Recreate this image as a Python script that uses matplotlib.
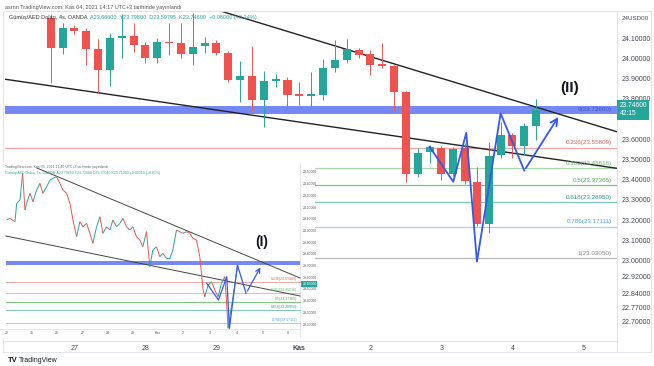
import matplotlib
matplotlib.use("Agg")
import matplotlib.pyplot as plt
from matplotlib.patches import Rectangle
from matplotlib.collections import LineCollection

plt.rcParams["font.family"] = ["Liberation Sans", "DejaVu Sans"]

# ---- main chart: Gumus/AED, 4h candles (index 0 = Oct 26 16:00) ----
opens = [24.199, 24.052, 24.148, 24.135, 24.044, 23.941, 24.102, 24.110, 24.064, 24.000,
         24.081, 24.076, 24.023, 24.061, 24.074, 24.028, 23.893, 23.913, 23.794, 23.886,
         23.893, 23.822, 23.815, 23.819, 23.954, 23.992, 24.041, 24.020, 23.970, 23.962,
         23.835, 23.427, 23.539, 23.555, 23.428, 23.555, 23.390, 23.181, 23.522, 23.621,
         23.567, 23.666]
highs = [24.219, 24.173, 24.165, 24.150, 24.094, 24.125, 24.219, 24.173, 24.082, 24.099,
         24.173, 24.173, 24.224, 24.107, 24.090, 24.038, 23.989, 24.061, 23.937, 23.922,
         23.909, 23.884, 23.934, 23.995, 24.090, 24.095, 24.051, 24.041, 24.074, 23.967,
         23.840, 23.557, 23.572, 23.567, 23.563, 23.582, 23.464, 23.588, 23.687, 23.632,
         23.679, 23.798]
lows = [23.879, 24.020, 24.120, 23.967, 23.830, 23.863, 24.001, 24.033, 23.978, 23.978,
        24.017, 24.000, 23.967, 24.025, 24.017, 23.885, 23.786, 23.736, 23.662, 23.857,
        23.753, 23.769, 23.761, 23.794, 23.934, 23.977, 24.001, 23.917, 23.951, 23.740,
        23.390, 23.415, 23.482, 23.398, 23.420, 23.380, 23.170, 23.135, 23.506, 23.506,
        23.522, 23.598]
closes = [24.052, 24.148, 24.135, 24.046, 23.941, 24.100, 24.110, 24.064, 24.000, 24.079,
          24.074, 24.023, 24.054, 24.074, 24.028, 23.893, 23.913, 23.794, 23.888, 23.896,
          23.819, 23.815, 23.822, 23.951, 23.991, 24.044, 24.016, 23.967, 23.962, 23.835,
          23.427, 23.534, 23.560, 23.428, 23.550, 23.395, 23.181, 23.519, 23.621, 23.567,
          23.667, 23.746]

day_pos = [2, 8, 14, 21, 27, 33, 39, 45]
day_labels = ["27", "28", "29", "Kas", "2", "3", "4", "5"]
price_ticks = [24.2, 24.1, 24.0, 23.9, 23.8, 23.6, 23.5, 23.4, 23.3, 23.2, 23.1, 23.0,
               22.92, 22.84, 22.77, 22.70]

fib_levels = [23.558, 23.456, 23.374, 23.289, 23.168, 23.012]
fib_names = ["0.236(23.55809)", "0.382(23.45616)", "0.5(23.37365)", "0.618(23.28950)",
             "0.786(23.17111)", "1(23.03050)"]
fib_colors = ["#f3a6a3", "#a9d8ab", "#7cc47f", "#7fc6bf", "#9fd0f7", "#b8b8b8"]
fib_text_colors = ["#e0605a", "#66b36a", "#4caf50", "#2a9d8f", "#4aa3f0", "#888888"]
band = (23.725, 23.7645)

upper_line_x = [13.5, 48.0]
upper_line_y = [24.249, 23.634]
lower_line_x = [-4.0, 48.0]
lower_line_y = [23.898, 23.455]

zz_x = [32.0, 34.0, 35.1, 36.0, 38.0, 40.0, 43.0]
zz_y = [23.563, 23.390, 23.632, 22.995, 23.728, 23.445, 23.722]

# ---- inset: earlier 1h chart (analysis I) ----
in_x = [2.0, 3.0, 4.5, 5.0, 6.0, 6.8, 7.5, 8.0, 9.0, 9.9, 11.0, 12.0, 12.9, 14.0, 15.0,
        15.9, 17.0, 18.0, 18.9, 20.0, 21.0, 21.9, 23.0, 24.0, 24.9, 26.0, 27.0, 27.9, 29.0,
        30.0, 30.9, 32.0, 33.0, 33.9, 35.0, 36.0, 36.9, 38.0, 39.0, 39.9, 41.0, 42.0, 42.9,
        44.0, 45.0, 45.9, 47.0, 48.0, 48.9, 50.0, 51.0, 51.9, 53.0, 54.0, 54.9, 56.0, 57.0,
        57.9, 59.0, 60.0, 60.5, 61.0, 61.5, 62.5, 63.5, 64.5, 65.5, 66.5, 67.5, 68.0, 68.5,
        69.0, 70.0, 71.0, 71.5]
in_p = [24.094, 24.108, 24.079, 24.236, 24.264, 24.493, 24.179, 24.236, 24.322, 24.250,
        24.350, 24.407, 24.322, 24.378, 24.435, 24.450, 24.464, 24.407, 24.350, 24.322,
        24.236, 24.094, 23.951, 24.079, 24.036, 24.065, 23.980, 23.894, 24.036, 24.122,
        23.980, 24.036, 24.008, 24.094, 24.036, 24.065, 24.108, 24.036, 24.008, 24.036,
        23.951, 23.923, 23.865, 23.994, 23.694, 23.837, 23.865, 23.780, 23.809, 23.766,
        23.766, 23.837, 24.008, 23.994, 23.980, 23.994, 23.980, 23.937, 23.923, 23.780,
        23.638, 23.495, 23.438, 23.538, 23.566, 23.495, 23.438, 23.552, 23.609, 23.410,
        23.168, 23.267, 23.438, 23.638, 23.694]
in_upper_x = [11.1, 90.1]
in_upper_y = [24.538, 23.598]
in_lower_x = [1.8, 90.1]
in_lower_y = [23.957, 23.444]
in_band = (23.705, 23.743)
in_fib = [23.564, 23.472, 23.395, 23.324, 23.211]
in_zz_x = [62.1, 65.6, 68.1, 68.9, 71.3, 73.9, 78.6]
in_zz_y = [23.552, 23.410, 23.609, 23.168, 23.709, 23.467, 23.709]
in_day_pos = [2.0, 9.5, 17.0, 25.0, 32.4, 39.9, 47.4, 55.0, 63.1, 71.2, 79.0, 86.5]
in_day_labels = ["22", "25", "26", "27", "28", "29", "Kas", "2", "3", "4", "5", "8"]
in_price_ticks = [24.5, 24.4, 24.3, 24.2, 24.1, 24.0, 23.9, 23.8, 23.7, 23.6, 23.5,
                  23.4, 23.3, 23.2]

W, H = 654, 366
RED, GREEN = "#ef5350", "#26a69a"
BLUE = "#3359ec"
BAND = "#7489f3"
GRID = "#e0e3eb"


def fx(px):
    return px / W


def fy(py):
    return 1 - py / H


fig = plt.figure(figsize=(6.54, 3.66), dpi=100)
fig.patch.set_facecolor("white")

# outer frame
fig.add_artist(Rectangle((fx(3), fy(352)), fx(648), 341 / H, transform=fig.transFigure,
                         fill=False, edgecolor=GRID, lw=0.8))
fig.add_artist(plt.Line2D([fx(617), fx(617)], [fy(352), fy(341)], transform=fig.transFigure,
                          color=GRID, lw=0.8))

ax = fig.add_axes([fx(5), fy(341), 612 / W, 329 / H])
ax.set_xlim(-3.86, 47.83)
ax.set_ylim(22.603, 24.229)
for s in ["top", "left"]:
    ax.spines[s].set_visible(False)
for s in ["right", "bottom"]:
    ax.spines[s].set_color(GRID)
    ax.spines[s].set_linewidth(0.8)

ax.yaxis.tick_right()
ax.set_yticks(price_ticks)
ylabels = [f"{v:.5f}" for v in price_ticks]
ylabels[0] = "24USD00"   # currency tag sits over the top price label
ax.set_yticklabels(ylabels)
ax.tick_params(axis="y", length=0, pad=3, labelsize=5, labelcolor="#434651")
ax.get_yticklabels()[0].set_fontsize(4.5)
ax.set_xticks(day_pos)
ax.set_xticklabels(day_labels)
ax.tick_params(axis="x", length=0, pad=3, labelsize=5, labelcolor="#434651")
ax.get_xticklabels()[3].set_fontweight("bold")

# fib levels and band
for lv, c in zip(fib_levels, fib_colors):
    ax.axhline(lv, color=c, lw=0.9, zorder=1)
for lv, name, c in zip(fib_levels, fib_names, fib_text_colors):
    ax.text(47.4, lv + 0.012, name, ha="right", va="bottom", fontsize=4.5, color=c, zorder=5)
ax.axhspan(band[0], band[1], color=BAND, lw=0, zorder=1)
ax.text(47.4, (band[0] + band[1]) / 2, "0(23.72600)", ha="right", va="center",
        fontsize=4.5, color="#3a55c8", zorder=5)

# trend lines
ax.plot(upper_line_x, upper_line_y, color="#222222", lw=1.0, zorder=2)
ax.plot(lower_line_x, lower_line_y, color="#222222", lw=1.0, zorder=2)

# candles
for i, (o, h, l, c) in enumerate(zip(opens, highs, lows, closes)):
    col = GREEN if c >= o else RED
    ax.vlines(i, l, h, color=col, lw=0.7, zorder=3)
    ax.bar(i, max(abs(c - o), 0.006), bottom=min(o, c), width=0.68, color=col, lw=0, zorder=3)

# zigzag projection
ax.plot(zz_x[:-1], zz_y[:-1], color=BLUE, lw=1.3, zorder=4)
ax.annotate("", xy=(zz_x[-1], zz_y[-1]), xytext=(zz_x[-2], zz_y[-2]),
            arrowprops=dict(arrowstyle="->,head_length=0.5,head_width=0.25", color=BLUE, lw=1.3),
            zorder=4)
ax.text(43.86, 23.853, "(II)", fontsize=11, fontweight="bold", color="#131722",
        ha="center", va="center", zorder=5)

# last price tag
ax.annotate("23.74600\n42:15", xy=(1.004, 23.746), xycoords=("axes fraction", "data"),
            ha="left", va="center", fontsize=4.8, color="white", linespacing=1.3,
            bbox=dict(boxstyle="square,pad=0.35", fc=GREEN, ec="none"), annotation_clip=False)

# headers
fig.text(fx(5), fy(7), "asrnn TradingView.com, Kas 04, 2021 14:17 UTC+3 tarihinde yayınlandı",
         fontsize=4.0, color="#555555", va="center")
fig.text(fx(9), fy(17), "Gümüş/AED Doları, 4s, OANDA", fontsize=4.0, color="#333333", va="center")
fig.text(fx(90), fy(17), "A23.66600  Y23.79800  D23.59795  K23.74600  +0.08000 (+0.34%)",
         fontsize=4.0, color=GREEN, va="center")
fig.text(fx(8), fy(360), "TV", fontsize=5.5, fontweight="bold", color="#131722", va="center")
fig.text(fx(19), fy(360), "TradingView", fontsize=5, color="#131722", va="center")

# ---- inset ----
ia = fig.add_axes([0, fy(338), 315 / W, 175 / H])
ia.set_facecolor("white")
ia.set_xlim(0, 94.6)
ia.set_ylim(23.085, 24.581)
ia.set_xticks([])
ia.set_yticks([])
for s in ia.spines.values():
    s.set_visible(False)
ia.set_zorder(6)

ia.axvline(90.1, color=GRID, lw=0.6)
ia.axhline(23.158, xmax=90.1 / 94.6, color=GRID, lw=0.6)
for lv, c in zip(in_fib, fib_colors):
    ia.plot([1.8, 90.1], [lv, lv], color=c, lw=0.7)
for lv, name, c in zip(in_fib, fib_names, fib_text_colors):
    ia.text(89.3, lv + 0.008, name, ha="right", va="bottom", fontsize=2.5, color=c)
ia.add_patch(Rectangle((1.8, in_band[0]), 88.3, in_band[1] - in_band[0], color=BAND, lw=0))
ia.plot(in_upper_x, in_upper_y, color="#444444", lw=0.7)
ia.plot(in_lower_x, in_lower_y, color="#444444", lw=0.7)

segs = [[(in_x[k], in_p[k]), (in_x[k + 1], in_p[k + 1])] for k in range(len(in_x) - 1)]
seg_cols = [GREEN if in_p[k + 1] >= in_p[k] else RED for k in range(len(in_x) - 1)]
ia.add_collection(LineCollection(segs, colors=seg_cols, linewidths=0.7))

ia.plot(in_zz_x[:-1], in_zz_y[:-1], color=BLUE, lw=0.9)
ia.annotate("", xy=(in_zz_x[-1], in_zz_y[-1]), xytext=(in_zz_x[-2], in_zz_y[-2]),
            arrowprops=dict(arrowstyle="->,head_length=0.3,head_width=0.15", color=BLUE, lw=0.9))
ia.text(78.6, 23.908, "(I)", fontsize=10, fontweight="bold", color="#131722",
        ha="center", va="center")

for v in in_price_ticks:
    ia.text(90.8, v, f"{v:.5f}", fontsize=2.4, color="#555555", va="center")
ia.text(90.8, 23.55, "23.55000", fontsize=2.4, color="white", va="center",
        bbox=dict(boxstyle="square,pad=0.3", fc=GREEN, ec="none"))
for xp, lab in zip(in_day_pos, in_day_labels):
    ia.text(xp, 23.125, lab, fontsize=2.6, color="#555555", ha="center", va="center")
ia.text(1.5, 24.545, "TradingView.com, Kas 03, 2021 11:40 UTC+3 tarihinde yayınlandı",
        fontsize=2.5, color="#666666", va="center")
ia.text(1.5, 24.495, "Gümüş/AED Doları, 1s, OANDA  A23.70650 Y23.72600 D23.70040 K23.71000 +0.00350 (+0.01%)",
        fontsize=2.5, color=GREEN, va="center")

fig.savefig("out.png", dpi=100, facecolor="white")
